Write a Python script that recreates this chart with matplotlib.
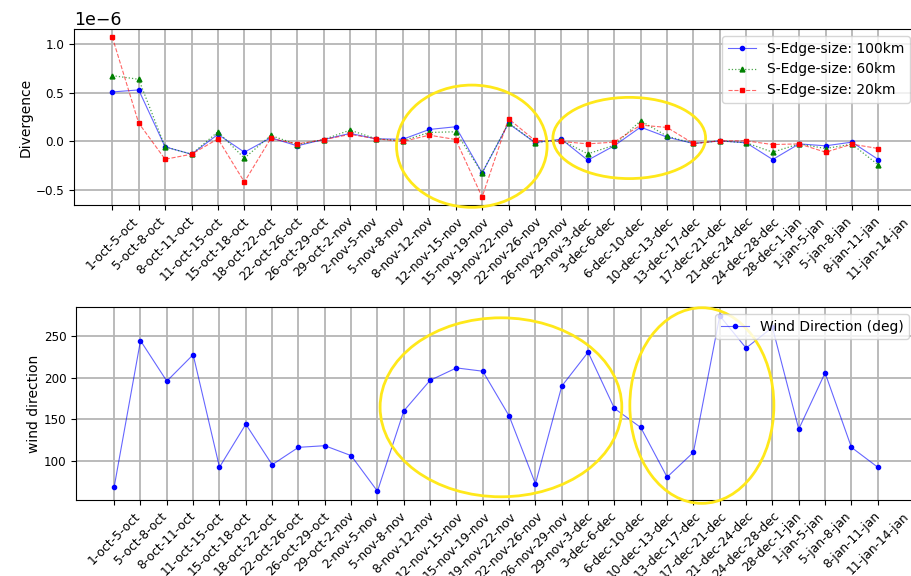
import matplotlib
matplotlib.use("Agg")
import matplotlib.pyplot as plt
from matplotlib.patches import Ellipse

periods = [
    "1-oct-5-oct", "5-oct-8-oct", "8-oct-11-oct", "11-oct-15-oct", "15-oct-18-oct",
    "18-oct-22-oct", "22-oct-26-oct", "26-oct-29-oct", "29-oct-2-nov", "2-nov-5-nov",
    "5-nov-8-nov", "8-nov-12-nov", "12-nov-15-nov", "15-nov-19-nov", "19-nov-22-nov",
    "22-nov-26-nov", "26-nov-29-nov", "29-nov-3-dec", "3-dec-6-dec", "6-dec-10-dec",
    "10-dec-13-dec", "13-dec-17-dec", "17-dec-21-dec", "21-dec-24-dec", "24-dec-28-dec",
    "28-dec-1-jan", "1-jan-5-jan", "5-jan-8-jan", "8-jan-11-jan", "11-jan-14-jan",
]

# divergence per period, in units of 1e-6
div_100km = [0.509, 0.530, -0.059, -0.135, 0.070, -0.114, 0.035, -0.048, 0.017, 0.080,
             0.024, 0.020, 0.121, 0.149, -0.329, 0.183, -0.014, 0.021, -0.197, -0.048,
             0.145, 0.042, -0.024, 0.003, -0.017, -0.190, -0.028, -0.048, -0.010, -0.190]
div_60km = [0.678, 0.640, -0.059, -0.135, 0.097, -0.176, 0.059, -0.035, 0.017, 0.114,
            0.024, 0.005, 0.090, 0.097, -0.329, 0.190, -0.014, 0.010, -0.131, -0.042,
            0.211, 0.052, -0.024, 0.003, -0.017, -0.114, -0.028, -0.076, -0.031, -0.246]
div_20km = [1.077, 0.187, -0.187, -0.135, 0.024, -0.422, 0.028, -0.028, 0.015, 0.070,
            0.024, -0.003, 0.062, 0.017, -0.578, 0.232, 0.007, -0.003, -0.028, -0.010,
            0.166, 0.142, -0.024, 0.003, 0.003, -0.035, -0.028, -0.114, -0.031, -0.076]

wind_dir = [68, 245, 196, 228, 92, 144, 95, 116, 118, 106,
            63, 160, 197, 212, 208, 154, 72, 190, 231, 163,
            140, 80, 110, 275, 236, 261, 138, 206, 116, 92]

# highlighted periods: (center x, center y, width, height) in data units
top_marks = [(13.61, -0.052e-6, 5.70, 1.264e-6), (19.57, 0.033e-6, 5.78, 0.84e-6)]
bottom_marks = [(14.69, 164.4, 9.18, 216.3), (22.32, 166.5, 5.47, 236.4)]

x = range(len(periods))
scale = 1e-6

fig = plt.figure(figsize=(9.11, 5.76), dpi=100)
ax1 = fig.add_axes([0.0812, 0.644, 0.925, 0.3056])
ax2 = fig.add_axes([0.0834, 0.132, 0.922, 0.335])

ax1.plot(x, [v * scale for v in div_100km], linestyle="-", color=(0, 0, 1, 0.6), lw=0.8,
         marker="o", ms=3, mfc="b", mec="b", label="S-Edge-size: 100km")
ax1.plot(x, [v * scale for v in div_60km], linestyle=":", color=(0, 0.5, 0, 0.7), lw=0.9,
         marker="^", ms=3.5, mfc="g", mec="g", label="S-Edge-size: 60km")
ax1.plot(x, [v * scale for v in div_20km], linestyle="--", color=(1, 0, 0, 0.6), lw=0.8,
         marker="s", ms=3, mfc="r", mec="r", label="S-Edge-size: 20km")
ax1.set_ylabel("Divergence", fontsize=10, labelpad=2)
ax1.legend(loc="upper right", fontsize=10)

ax2.plot(x, wind_dir, linestyle="-", color=(0, 0, 1, 0.6), lw=0.8,
         marker="o", ms=3, mfc="b", mec="b", label="Wind Direction (deg)")
ax2.set_ylabel("wind direction", fontsize=10, labelpad=2)
ax2.legend(loc="upper right", fontsize=10)

for ax, marks in ((ax1, top_marks), (ax2, bottom_marks)):
    ax.set_xticks(list(x))
    ax.set_xticklabels(periods, rotation=45, fontsize=8.8)
    ax.tick_params(axis="y", labelsize=8.6)
    ax.grid(True, color="#b5b5b5", linewidth=1.3)
    ax.set_axisbelow(True)
    for cx, cy, w, h in marks:
        ax.add_patch(Ellipse((cx, cy), w, h, fill=False, edgecolor="#ffe81a",
                             linewidth=2, clip_on=False, zorder=5))

ax1.yaxis.get_offset_text().set_fontsize(12.5)

fig.savefig("out.png", dpi=100)
